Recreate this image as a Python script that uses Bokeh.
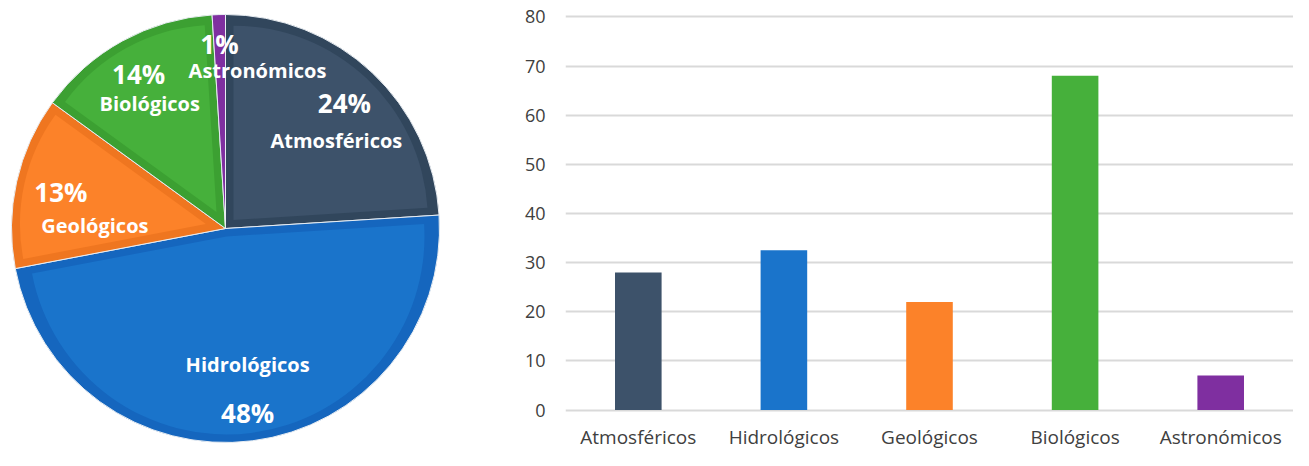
import math
from bokeh.plotting import figure
from bokeh.layouts import row
from bokeh.models import Range1d, FixedTicker, ColumnDataSource
from bokeh.core.properties import value
from bokeh.embed import file_html
from bokeh.resources import INLINE

# ---- data ----
categories = ["Atmosféricos", "Hidrológicos", "Geológicos", "Biológicos", "Astronómicos"]
pie_percent = [24, 48, 13, 14, 1]
bar_values = [28, 32.5, 22, 68, 7]
y_ticks = [0, 10, 20, 30, 40, 50, 60, 70, 80]

colors = ["#3d526a", "#1a74cb", "#fc8229", "#46b03b", "#7f2fa0"]
band_colors = ["#31465c", "#1566be", "#ef7620", "#3ca032", "#7f2fa0"]

FONT = "Open Sans"
TOPB = 4

# ---- pie ----
PW, PH = 500, 450
pie = figure(width=PW, height=PH, output_backend="svg", toolbar_location=None,
             x_range=Range1d(0, PW), y_range=Range1d(0, PH - TOPB),
             min_border=0, min_border_top=TOPB, outline_line_color=None,
             x_axis_location=None, y_axis_location=None)
pie.grid.visible = False

cx, cy, R = 225, 222, 214
band = 8
total = float(sum(pie_percent))
cum = 0.0
mids = []
for i, pct in enumerate(pie_percent):
    frac = pct / total
    top = math.radians(90 - cum * 360)
    bot = math.radians(90 - (cum + frac) * 360)
    cum += frac
    mid = (top + bot) / 2
    mids.append(mid)
    pie.wedge(x=cx, y=cy, radius=R, start_angle=bot, end_angle=top,
              fill_color=band_colors[i], line_color="#e8edf2", line_width=1)
    half = (top - bot) / 2
    shift = band / math.sin(half)
    if shift < R * 0.5:
        pie.wedge(x=cx + shift * math.cos(mid), y=cy + shift * math.sin(mid),
                  radius=R - band - shift, start_angle=bot, end_angle=top,
                  fill_color=colors[i], line_color=None)

# label placement: anchor on mid-angle, per-line pixel offsets (layout only)
label_rf = 0.75
pct_off = [(9, 9), (2, -25), (-8, 1), (-9.5, 14), (-1, 24)]
name_off = [(1, -29), (2, 23), (26, -32), (1.5, -16), (37, -2)]
px, py, nx, ny, ptxt = [], [], [], [], []
for i, m in enumerate(mids):
    ax = cx + label_rf * R * math.cos(m)
    ay = cy + label_rf * R * math.sin(m)
    px.append(ax + pct_off[i][0]); py.append(ay + pct_off[i][1])
    nx.append(ax + name_off[i][0]); ny.append(ay + name_off[i][1])
    ptxt.append(f"{pie_percent[i]}%")

pie.text(x=px, y=py, text=ptxt, text_font=value(FONT), text_font_style="bold",
         text_font_size="26px", text_color="white", text_align="center",
         text_baseline="middle")
pie.text(x=nx, y=ny, text=categories, text_font=value(FONT), text_font_style="bold",
         text_font_size="20px", text_color="white", text_align="center",
         text_baseline="middle")

# ---- bar chart ----
BW = 1293 - PW
xs = list(range(len(categories)))
src = ColumnDataSource(dict(x=xs, top=bar_values, color=colors, name=categories,
                            zero=[0] * len(xs)))
bar = figure(width=BW, height=PH, output_backend="svg", toolbar_location=None,
             x_range=Range1d(-0.5, len(categories) - 0.5),
             y_range=Range1d(-8.24, 82.52),
             min_border_left=65, min_border_right=0, min_border_top=TOPB,
             min_border_bottom=0, outline_line_color=None,
             x_axis_location=None)
bar.vbar(x="x", top="top", width=0.32, bottom=0, fill_color="color",
         line_color=None, source=src)
bar.text(x="x", y="zero", text="name", source=src, text_font=value(FONT),
         text_font_size="19px", text_color="#404040", text_align="center",
         text_baseline="top", y_offset=14)

bar.yaxis.ticker = FixedTicker(ticks=y_ticks)
bar.yaxis.axis_line_color = None
bar.yaxis.major_tick_line_color = None
bar.yaxis.minor_tick_line_color = None
bar.yaxis.major_label_text_font = FONT
bar.yaxis.major_label_text_font_size = "18px"
bar.yaxis.major_label_text_color = "#404040"
bar.yaxis.major_label_standoff = 14
bar.xgrid.visible = False
bar.ygrid.ticker = FixedTicker(ticks=y_ticks)
bar.ygrid.grid_line_color = "#d9d9d9"
bar.ygrid.grid_line_width = 2

layout = row(pie, bar)
open("out.html", "w").write(file_html(layout, INLINE))
